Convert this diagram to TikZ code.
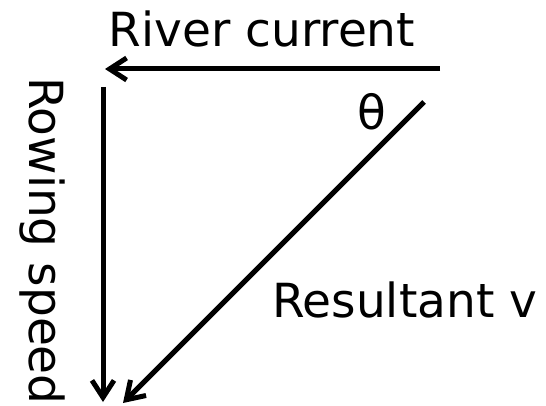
\documentclass[tikz,border=0pt]{standalone}
\usepackage{fontspec}
\setmainfont{DejaVu Sans}
\usetikzlibrary{arrows.meta}

\begin{document}
\begin{tikzpicture}[x=1pt, y=-1pt,
    vec/.style={line width=5pt, -{Straight Barb[length=17pt, width=22pt]}},
    lbl/.style={font=\fontsize{47}{54}\selectfont, inner sep=0pt}]
  \useasboundingbox (0,0) rectangle (546,406);
  % ends of the three vectors
  \coordinate (rivtail) at (440,69);
  \coordinate (rivhead) at (105,69);
  \coordinate (rowtail) at (103,87);
  \coordinate (rowhead) at (103,402);
  \coordinate (restail) at (424,102);
  \coordinate (reshead) at (123,403);
  \draw[vec] (rivtail) -- (rivhead);
  \draw[vec] (rowtail) -- (rowhead);
  \draw[vec] (restail) -- (reshead);
  % labels
  \node[lbl, anchor=base] (river) at (262,47) {River current};
  \node[lbl, rotate=-90, anchor=base] (rowing) at (29,241) {Rowing speed};
  \node[lbl, anchor=base west] (result) at (272,317) {Resultant v};
  \node[lbl] (theta) at (372,112) {θ};
\end{tikzpicture}
\end{document}
